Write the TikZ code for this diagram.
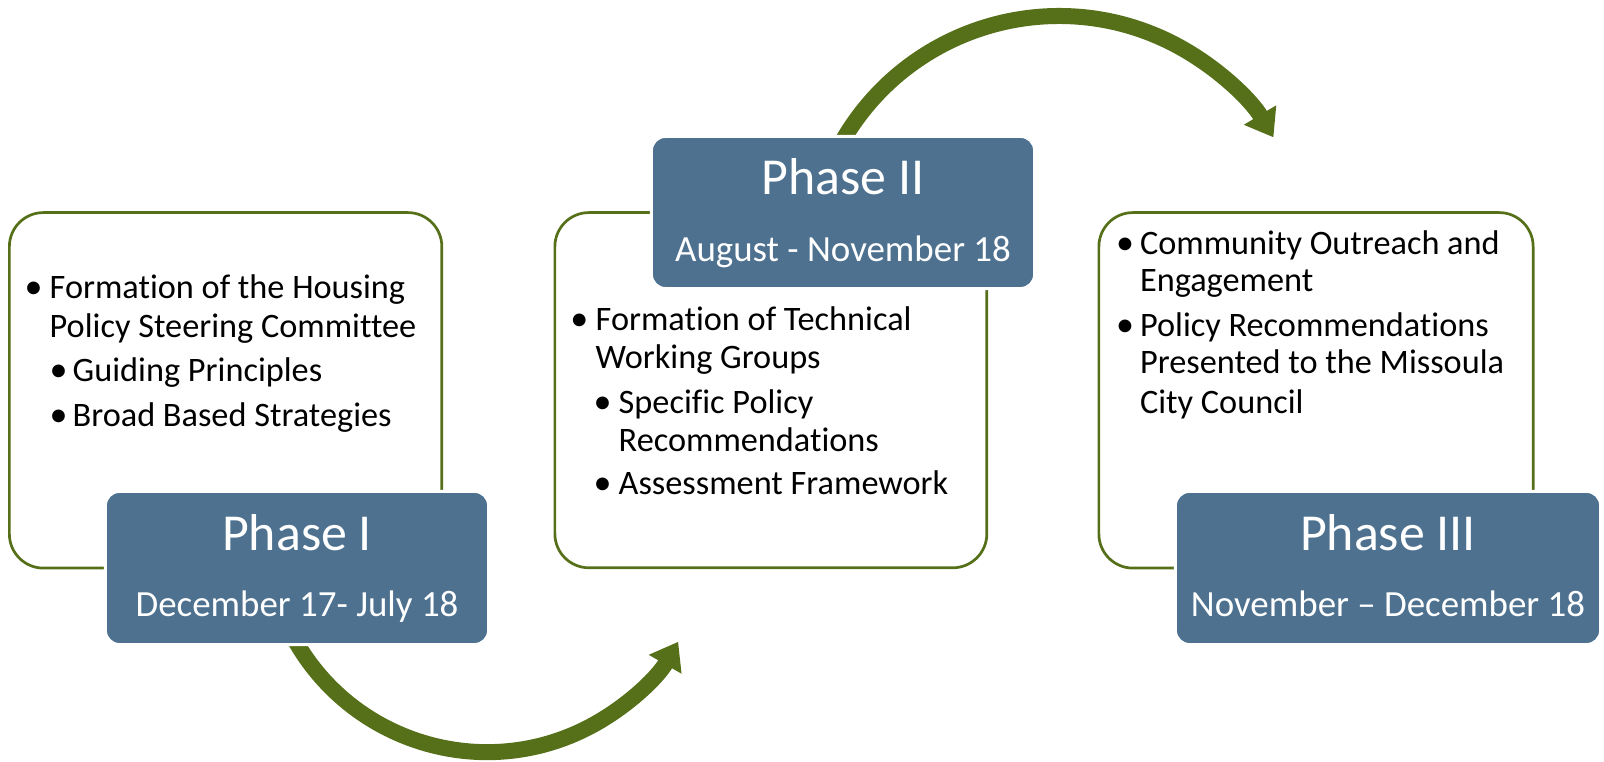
\documentclass[tikz,border=0pt]{standalone}
\usepackage{fontspec}
\setmainfont[Ligatures={NoCommon,NoContextual}]{Carlito}
\usetikzlibrary{arrows.meta}
\definecolor{phaseblue}{RGB}{77,113,143}
\definecolor{olive}{RGB}{86,112,26}
\tikzset{
  whitebox/.style={draw=olive, line width=0.027cm, fill=white, rounded corners=0.34cm, inner sep=0pt},
  bluebox/.style={draw=white, line width=0.03cm, fill=phaseblue, rounded corners=0.14cm, inner sep=0pt},
  bigarrow/.style={draw=olive, line width=0.16cm, -{Triangle[width=0.36cm,length=0.26cm]}},
  ttl/.style={text=white, inner sep=0pt, anchor=base, font=\fontsize{14.75pt}{17pt}\selectfont},
  dte/.style={text=white, inner sep=0pt, anchor=base, font=\fontsize{10.5pt}{12pt}\selectfont},
  bodytxt/.style={text=black, inner sep=0pt, anchor=base west, font=\fontsize{9.75pt}{11pt}\selectfont},
}
\newcommand{\bul}[1]{\makebox[#1][l]{\scalebox{1.05}{•}}}
\begin{document}
\begin{tikzpicture}[x=0.01cm,y=0.01cm]
\useasboundingbox (0,0) rectangle (1604,762);
% arrows (behind boxes)
\coordinate (c1) at (487,230.6);
\coordinate (s1) at ([shift={(-152:2.206cm)}]c1);
\coordinate (c2) at (1059,495.8);
\coordinate (s2) at ([shift={(151:2.5cm)}]c2);
\draw[bigarrow] (s1) arc[start angle=-152, end angle=-30, radius=2.206cm];
\draw[bigarrow] (s2) arc[start angle=151, end angle=31, radius=2.5cm];
% white boxes
\node[whitebox, minimum width=4.322cm, minimum height=3.553cm] (w1) at (225.6,371.65) {};
\node[whitebox, minimum width=4.317cm, minimum height=3.55cm] (w2) at (770.85,371.8) {};
\node[whitebox, minimum width=4.34cm, minimum height=3.553cm] (w3) at (1316,371.65) {};
% blue boxes
\node[bluebox, minimum width=3.83cm, minimum height=1.53cm] (p1) at (297,194) {};
\node[bluebox, minimum width=3.83cm, minimum height=1.52cm] (p2) at (843,549.5) {};
\node[bluebox, minimum width=4.25cm, minimum height=1.53cm] (p3) at (1388,194) {};
% titles
\node[ttl] (p1t) at (297,211.3) {Phase I};
\node[dte] (p1d) at (297,145.3) {December 17- July 18};
\node[ttl] (p2t) at (843,567) {Phase II};
\node[dte] (p2d) at (843,500.3) {August - November 18};
\node[ttl] (p3t) at (1388,211.3) {Phase III};
\node[dte] (p3d) at (1388,145.3) {November – December 18};
% box 1 text
\node[bodytxt] (a1) at (24,463) {\bul{0.25cm}Formation of the Housing};
\node[bodytxt] (a2) at (49,424.7) {Policy Steering Committee};
\node[bodytxt] (a3) at (49,380.3) {\bul{0.23cm}Guiding Principles};
\node[bodytxt] (a4) at (49,335.3) {\bul{0.23cm}Broad Based Strategies};
% box 2 text
\node[bodytxt] (b1) at (569.7,431.3) {\bul{0.253cm}Formation of Technical};
\node[bodytxt] (b2) at (595,393.7) {Working Groups};
\node[bodytxt] (b3) at (593,348.7) {\bul{0.25cm}Specific Policy};
\node[bodytxt] (b4) at (618,310.3) {Recommendations};
\node[bodytxt] (b5) at (593,267) {\bul{0.25cm}Assessment Framework};
% box 3 text
\node[bodytxt] (d1) at (1115.3,507.7) {\bul{0.24cm}Community Outreach and};
\node[bodytxt] (d2) at (1139.3,470.3) {Engagement};
\node[bodytxt] (d3) at (1115.3,425.3) {\bul{0.24cm}Policy Recommendations};
\node[bodytxt] (d4) at (1139.3,388) {Presented to the Missoula};
\node[bodytxt] (d5) at (1139.3,348.7) {City Council};
\end{tikzpicture}
\end{document}
